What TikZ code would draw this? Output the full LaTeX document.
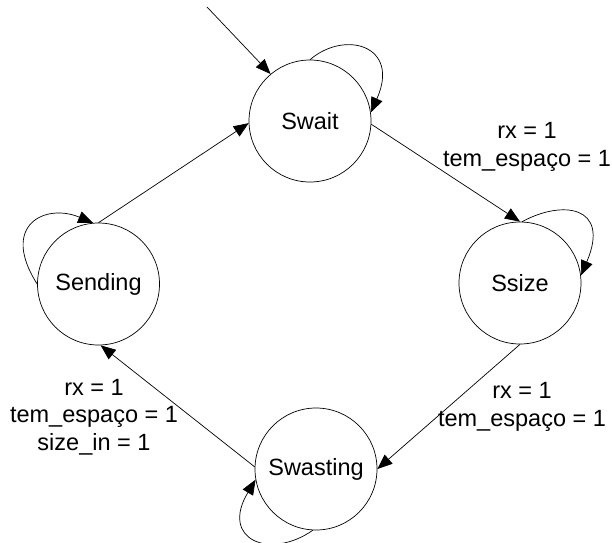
\documentclass[tikz,border=0pt]{standalone}
\usepackage{fontspec}
\setmainfont{Liberation Sans}
\usetikzlibrary{arrows.meta}
\begin{document}
\begin{tikzpicture}[x=1pt,y=-1pt,
  state/.style={draw, circle, minimum size=122pt, inner sep=0pt, line width=0.7pt, font=\fontsize{23.5}{27}\selectfont},
  lbl/.style={align=center, font=\fontsize{23.5}{27.5}\selectfont, inner sep=0pt},
  edge/.style={line width=0.7pt, -{Triangle[length=15pt,width=12pt]}}]
\useasboundingbox (0,0) rectangle (612,542);
\node[state] (swait) at (310,121) {Swait};
\node[state] (ssize) at (520,283) {Ssize};
\node[state] (swasting) at (316,469) {Swasting};
\node[state] (sending) at (98.5,284) {Sending};
\coordinate (start) at (207,7);

\draw[edge] (start) -- (swait.130);
\draw[edge] (swait.90) .. controls +(35,-30) and +(30,-67) .. (swait.8);
\draw[edge] (swait.-3) -- (ssize.90);
\draw[edge] (ssize.88) .. controls +(40,-22) and +(30,-70) .. (ssize.7);
\draw[edge] (ssize.-90) -- (swasting.0);
\draw[edge] (swasting.-93) .. controls +(-43,30) and +(-36,60) .. (swasting.190);
\draw[edge] (swasting.178) -- (sending.-88);
\draw[edge] (sending.180) .. controls +(-37.5,-59) and +(-48,-20) .. (sending.95);
\draw[edge] (sending.90) -- (swait.182);

\node[lbl] (l1) at (527,147) {rx = 1\\tem\_espaço = 1};
\node[lbl] (l2) at (522,407) {rx = 1\\tem\_espaço = 1};
\node[lbl] (l3) at (94,417) {rx = 1\\tem\_espaço = 1\\size\_in = 1};
\end{tikzpicture}
\end{document}
